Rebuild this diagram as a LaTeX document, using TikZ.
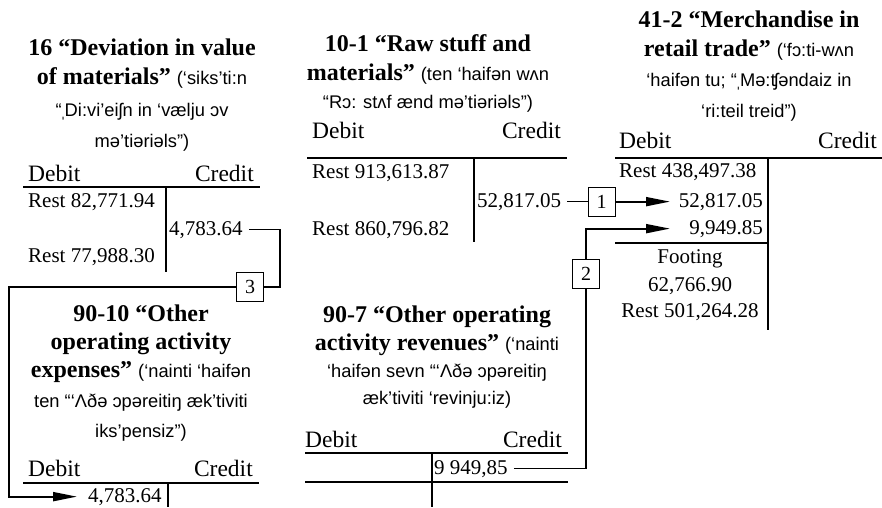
\documentclass[tikz,border=0pt]{standalone}
\usepackage{fontspec}
\setmainfont{Liberation Serif}
\newfontfamily\ipafnt{Liberation Sans}
\usetikzlibrary{arrows.meta}
\newcommand\phs{\ipafnt\mdseries\fontsize{18.3}{22}\selectfont}
\newcommand\lowstress{\kern-1.5pt ˌ\kern-1.5pt}
\begin{document}
\begin{tikzpicture}[x=1pt,y=-1pt,
  ttl/.style={anchor=base,inner sep=0pt,font=\fontsize{24}{28}\selectfont\bfseries},
  phn/.style={anchor=base,inner sep=0pt,font=\phs},
  hdl/.style={anchor=base west,inner sep=0pt,font=\fontsize{23.5}{26}\selectfont},
  hdr/.style={anchor=base east,inner sep=0pt,font=\fontsize{23.5}{26}\selectfont},
  numl/.style={anchor=base west,inner sep=0pt,font=\fontsize{21}{24}\selectfont},
  numr/.style={anchor=base east,inner sep=0pt,font=\fontsize{21}{24}\selectfont},
  numc/.style={anchor=base,inner sep=0pt,font=\fontsize{21}{24}\selectfont},
  tline/.style={line width=2.4pt},
  conn/.style={line width=1.2pt},
  arrline/.style={line width=1.8pt,-{Triangle[length=24pt,width=9pt]}},
  numbox/.style={draw,line width=0.9pt,minimum width=27pt,minimum height=29pt,inner sep=0pt,font=\fontsize{20}{22}\selectfont}]
\useasboundingbox (0,0) rectangle (882,507);

% ---- 16
\node[ttl] (a1) at (142,55) {16 “Deviation in value};
\node[ttl] (a2) at (142,84) {of materials” {\phs (‘siks’ti:n}};
\node[phn] (a3) at (142,116) {“\lowstress Di:vi’eiʃn in ‘vælju ɔv};
\node[phn] (a4) at (142,147) {mə’tiəriəls”)};
\node[hdl] (a5) at (28,181) {Debit};
\node[hdr] (a6) at (254,181) {Credit};
\draw[tline] (23,187) -- (260,187);
\draw[tline] (166,187) -- (166,272);
\node[numl] (a7) at (28,207) {Rest 82,771.94};
\node[numl] (a8) at (169,235) {4,783.64};
\node[numl] (a9) at (28,262) {Rest 77,988.30};

% ---- 10-1
\node[ttl] (b1) at (428,51) {10-1 “Raw stuff and};
\node[ttl] (b2) at (428,80) {materials” {\phs (ten ‘haifən wʌn}};
\node[phn] (b3) at (428,108) {“Rɔ: stʌf ænd mə’tiəriəls”)};
\node[hdl] (b4) at (312,138) {Debit};
\node[hdr] (b5) at (561,138) {Credit};
\draw[tline] (307,158) -- (567,158);
\draw[tline] (474,158) -- (474,242);
\node[numl] (b6) at (312,178) {Rest 913,613.87};
\node[numl] (b8) at (477,207) {52,817.05};
\node[numl] (b7) at (312,235) {Rest 860,796.82};

% ---- 41-2
\node[ttl] (f1) at (749,27) {41-2 “Merchandise in};
\node[ttl] (f2) at (749,56) {retail trade” {\phs (‘fɔ:ti-wʌn}};
\node[phn] (f3) at (749,86) {‘haifən tu; “\lowstress Mə:ʧəndaiz in};
\node[phn] (f4) at (749,117) {‘ri:teil treid”)};
\node[hdl] (f5) at (619,148) {Debit};
\node[hdr] (f6) at (877,148) {Credit};
\draw[tline] (615,158) -- (882,158);
\draw[tline] (768,158) -- (768,330);
\node[numl] (f7) at (619,177) {Rest 438,497.38};
\node[numr] (f52) at (763,207) {52,817.05};
\node[numr] (f99) at (763,234) {9,949.85};
\draw[tline] (615,243) -- (768,243);
\node[numc] (f8) at (690,263) {Footing};
\node[numc] (f9) at (690,291) {62,766.90};
\node[numc] (f10) at (690,317) {Rest 501,264.28};

% ---- 90-10
\node[ttl] (e1) at (141,321) {90-10 “Other};
\node[ttl] (e2) at (141,349) {operating activity};
\node[ttl] (e3) at (141,377) {expenses” {\phs (‘nainti ‘haifən}};
\node[phn] (e4) at (141,407) {ten “‘Λðə ɔpəreitiŋ æk’tiviti};
\node[phn] (e5) at (141,437) {iks’pensiz”)};
\node[hdl] (e6) at (28,476) {Debit};
\node[hdr] (e7) at (253,476) {Credit};
\draw[tline] (23,483) -- (259,483);
\draw[tline] (168,483) -- (168,507);
\node[numl] (e9) at (88,502) {4,783.64};

% ---- 90-7
\node[ttl] (g1) at (437,322) {90-7 “Other operating};
\node[ttl] (g2) at (437,350) {activity revenues” {\phs (‘nainti}};
\node[phn] (g3) at (437,377) {‘haifən sevn “‘Λðə ɔpəreitiŋ};
\node[phn] (g4) at (437,404) {æk’tiviti ‘revinju:iz)};
\node[hdl] (g5) at (305,447) {Debit};
\node[hdr] (g6) at (562,447) {Credit};
\draw[tline] (305,453) -- (568,453);
\draw[tline] (305,482) -- (568,482);
\draw[tline] (432,453) -- (432,507);
\node[numl] (g99) at (434,474) {9 949,85};

% ---- boxes and connectors
\node[numbox] (k1) at (601.5,201.5) {1};
\node[numbox] (k2) at (586,274) {2};
\node[numbox] (k3) at (250,287) {3};
\coordinate (tipx) at (670,0);
\coordinate (c3) at (280,0);
\coordinate (c0) at (9,0);

\draw[conn] ([xshift=6pt]b8.east) -- (k1.west |- b8.east);
\draw[arrline] (k1.east |- b8.east) -- (tipx |- f52.west);

\draw[conn] ([xshift=6pt]g99.east) -| (k2.south);
\draw[conn] (k2.north) -- (k2.north |- f99.west);
\draw[arrline] ([xshift=-0.6pt]k2.north |- f99.west) -- (tipx |- f99.west);

\draw[conn] ([xshift=6pt]a8.east) -| (c3 |- k3.east) -- (k3.east);
\draw[conn] (k3.west) -| (c0 |- e9.west);
\draw[arrline] ([xshift=-0.6pt]c0 |- e9.west) -- ([xshift=-11pt]e9.west);
\end{tikzpicture}
\end{document}
